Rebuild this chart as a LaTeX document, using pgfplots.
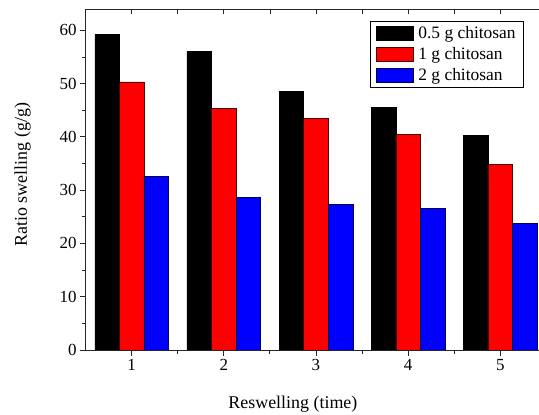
\documentclass[border=0pt]{standalone}
\usepackage{fontspec}
\setmainfont{Liberation Serif}
\usepackage{pgfplots}
\pgfplotsset{compat=1.18}

\pgfplotsset{
  frame/.style={
    scale only axis, width=460.75bp,
    xmin=0.5, xmax=5.5,
    axis line style={line width=0.8bp, black!85},
    every tick/.style={line width=0.8bp, black!85},
    major tick length=5.5bp, minor tick length=3.5bp,
    /pgf/number format/assume math mode=true,
    tick label style={font=\fontsize{17}{20}\selectfont},
  },
}

\begin{document}
\begin{tikzpicture}
\begin{axis}[
  frame,
  at={(85.6bp,65bp)}, anchor=south west, height=341bp,
  ymin=0, ymax=64,
  axis x line*=bottom, axis y line*=left,
  tick align=outside,
  ybar=0pt, bar width=24.57bp,
  xtick={1,2,3,4,5}, minor x tick num=1,
  ytick={0,10,...,60}, minor y tick num=1,
  xlabel={Reswelling (time)},
  ylabel={Ratio swelling (g/g)},
  label style={font=\fontsize{18}{21}\selectfont},
  xlabel style={at={(axis description cs:0.45,-0.173)}, anchor=base},
  ylabel style={at={(axis description cs:-0.137,0.514)}, anchor=center, rotate=0},
  legend style={at={(0.9515,0.9648)}, anchor=north east, draw=black,
    line width=0.6bp, font=\fontsize{17.5}{19}\selectfont,
    inner xsep=6bp, inner ysep=3bp, row sep=3.5bp, column sep=3bp},
  legend cell align=left,
  legend image code/.code={%
    \draw[#1, line width=0.6bp] (0bp,-6.8bp) rectangle (36.7bp,6.8bp);},
]
\addplot[fill=black, draw=black, line width=0.6bp] coordinates
  {(1,59.2) (2,56.0) (3,48.5) (4,45.6) (5,40.3)};
\addplot[fill=red, draw=black!70!red, line width=0.6bp] coordinates
  {(1,50.3) (2,45.4) (3,43.5) (4,40.4) (5,34.8)};
\addplot[fill=blue, draw=black!70!blue, line width=0.6bp] coordinates
  {(1,32.6) (2,28.6) (3,27.3) (4,26.6) (5,23.7)};
\legend{0.5 g chitosan, 1 g chitosan, 2 g chitosan}
\end{axis}
% top frame line: a flat axis whose bottom line lies on the top edge,
% so that its outward ticks point down into the plot
\begin{axis}[
  frame,
  at={(85.6bp,406bp)}, anchor=south west, height=2bp,
  ymin=0, ymax=1,
  axis x line*=bottom, axis y line=none,
  tick align=outside,
  xtick={1,2,3,4,5}, minor x tick num=1,
  major tick length=5.5bp, minor tick length=5.5bp,
  xticklabels={},
]
\addplot[draw=none] coordinates {(1,0.5) (2,0.5)};
\end{axis}
\pgfresetboundingbox
\path[use as bounding box] (0,0) rectangle (539bp,415bp);
\end{tikzpicture}
\end{document}
